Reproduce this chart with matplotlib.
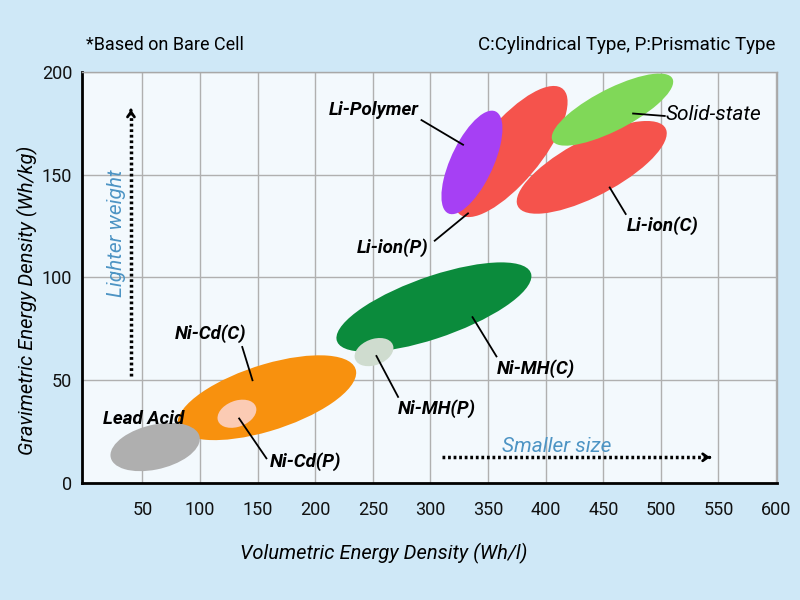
import matplotlib
matplotlib.use("Agg")
import matplotlib.pyplot as plt
from matplotlib.patches import Ellipse

# battery families: data-space ellipses (Wh/l, Wh/kg)
NAMES = ["Ni-Cd(C)", "Lead Acid", "Ni-Cd(P)", "Ni-MH(C)", "Ni-MH(P)",
         "Li-ion(P)", "Li-ion(C)", "Solid-state", "Li-Polymer"]
CENTER_WHL = [158, 61, 132, 303, 251, 370, 440, 458, 336]
CENTER_WHKG = [41.5, 17.5, 33.7, 85.6, 63.7, 161.3, 153.6, 181.7, 156]
SPAN_WHL = [157, 78, 34, 172, 34, 111, 134.6, 109, 66.5]
SPAN_WHKG = [33, 22, 13, 31, 13, 37, 29.7, 21.6, 30.4]
TILT = [9.3, 6.3, 8, 10.4, 8, 29.8, 15, 15, 42.8]
COLORS = ["#f8910e", "#afafaf", "#fbcbb4", "#0b8b3c", "#cfdccf",
          "#f5534c", "#f5534c", "#80d858", "#a640f4"]

# label text position and leader line (from point on blob -> towards label)
LABEL_X = [109.5, 51.2, 191.2, 391.4, 305.5, 266.8, 501.6, 504, 250.8]
LABEL_Y = [72.8, 31.1, 10.4, 55.8, 36.4, 114.7, 125.2, 179.1, 181.6]
LEAD_X0 = [145.5, None, 133.9, 336.5, 253.1, 332.6, 455.6, 475.9, 328.3]
LEAD_Y0 = [50, None, 31.4, 80.7, 61.8, 131.2, 143.8, 179.8, 164.6]
LEAD_X1 = [136.6, None, 157.6, 357.3, 271.9, 303.7, 469.5, 503.4, 292.2]
LEAD_Y1 = [66.2, None, 12, 61.6, 41.9, 117.9, 130.9, 178.6, 176.6]

X_TICKS = [50, 100, 150, 200, 250, 300, 350, 400, 450, 500, 550, 600]
Y_TICKS = [0, 50, 100, 150, 200]

WEIGHT_ARROW_X = 40
WEIGHT_ARROW_Y = (52, 183)
SIZE_ARROW_X = (310, 545)
SIZE_ARROW_Y = 12.5

BG = "#cfe8f7"
HINT = "#4d94c4"

plt.rcParams["font.family"] = ["Roboto", "DejaVu Sans"]

fig = plt.figure(figsize=(8, 6), dpi=100, facecolor=BG)
ax = fig.add_axes([0.1025, 0.195, 0.869, 0.685])
ax.set_facecolor("#f3f9fd")
ax.set_xlim(-2.5, 601)
ax.set_ylim(0, 200)
ax.set_xticks(X_TICKS)
ax.set_yticks(Y_TICKS)
ax.tick_params(length=0, labelsize=13, labelcolor="#111111")
ax.tick_params(axis="x", pad=13)
ax.tick_params(axis="y", pad=7)
ax.grid(True, color="#b0b0b0", lw=1)
ax.set_axisbelow(True)
for side in ("left", "bottom"):
    ax.spines[side].set_color("black")
    ax.spines[side].set_linewidth(2)
for side in ("top", "right"):
    ax.spines[side].set_color("#a8a8a8")
    ax.spines[side].set_linewidth(1)

for i, name in enumerate(NAMES):
    ax.add_patch(Ellipse((CENTER_WHL[i], CENTER_WHKG[i]), SPAN_WHL[i], SPAN_WHKG[i],
                         angle=TILT[i], facecolor=COLORS[i], edgecolor="none", zorder=2))

for i, name in enumerate(NAMES):
    if LEAD_X0[i] is not None:
        ax.plot([LEAD_X0[i], LEAD_X1[i]], [LEAD_Y0[i], LEAD_Y1[i]],
                color="black", lw=1.3, zorder=4)
    if name == "Solid-state":
        ax.text(LABEL_X[i], LABEL_Y[i], name, ha="left", va="center",
                fontsize=15, style="italic", zorder=5)
    else:
        ax.text(LABEL_X[i], LABEL_Y[i], name, ha="center", va="center",
                fontsize=13.5, style="italic", fontweight="semibold", zorder=5)

# hint arrows
ax.plot([WEIGHT_ARROW_X, WEIGHT_ARROW_X], [WEIGHT_ARROW_Y[0], WEIGHT_ARROW_Y[1] - 3],
        color="black", lw=2.5, ls=(0, (0.8, 0.8)), zorder=3)
ax.annotate("", xy=(WEIGHT_ARROW_X, WEIGHT_ARROW_Y[1]),
            xytext=(WEIGHT_ARROW_X, WEIGHT_ARROW_Y[1] - 3),
            arrowprops=dict(arrowstyle="->,head_length=0.35,head_width=0.25",
                            lw=2, color="black"), zorder=3)
ax.text(27.4, 121.4, "Lighter weight", rotation=90, ha="center", va="center",
        color=HINT, fontsize=15, style="italic")

ax.plot([SIZE_ARROW_X[0], SIZE_ARROW_X[1] - 3], [SIZE_ARROW_Y, SIZE_ARROW_Y],
        color="black", lw=2.5, ls=(0, (0.8, 0.8)), zorder=3)
ax.annotate("", xy=(SIZE_ARROW_X[1], SIZE_ARROW_Y),
            xytext=(SIZE_ARROW_X[1] - 5, SIZE_ARROW_Y),
            arrowprops=dict(arrowstyle="->,head_length=0.35,head_width=0.25",
                            lw=2, color="black"), zorder=3)
ax.text(409.6, 17.7, "Smaller size", ha="center", va="center",
        color=HINT, fontsize=15, style="italic")

fig.text(0.1075, 0.925, "*Based on Bare Cell", ha="left", va="center", fontsize=13)
fig.text(0.969, 0.925, "C:Cylindrical Type, P:Prismatic Type", ha="right",
         va="center", fontsize=13.5)
fig.text(0.48, 0.078, "Volumetric Energy Density (Wh/l)", ha="center",
         va="center", fontsize=14.5, style="italic")
fig.text(0.034, 0.5, "Gravimetric Energy Density (Wh/kg)", ha="center",
         va="center", rotation=90, fontsize=14.5, style="italic")

fig.savefig("out.png", dpi=100, facecolor=BG)
